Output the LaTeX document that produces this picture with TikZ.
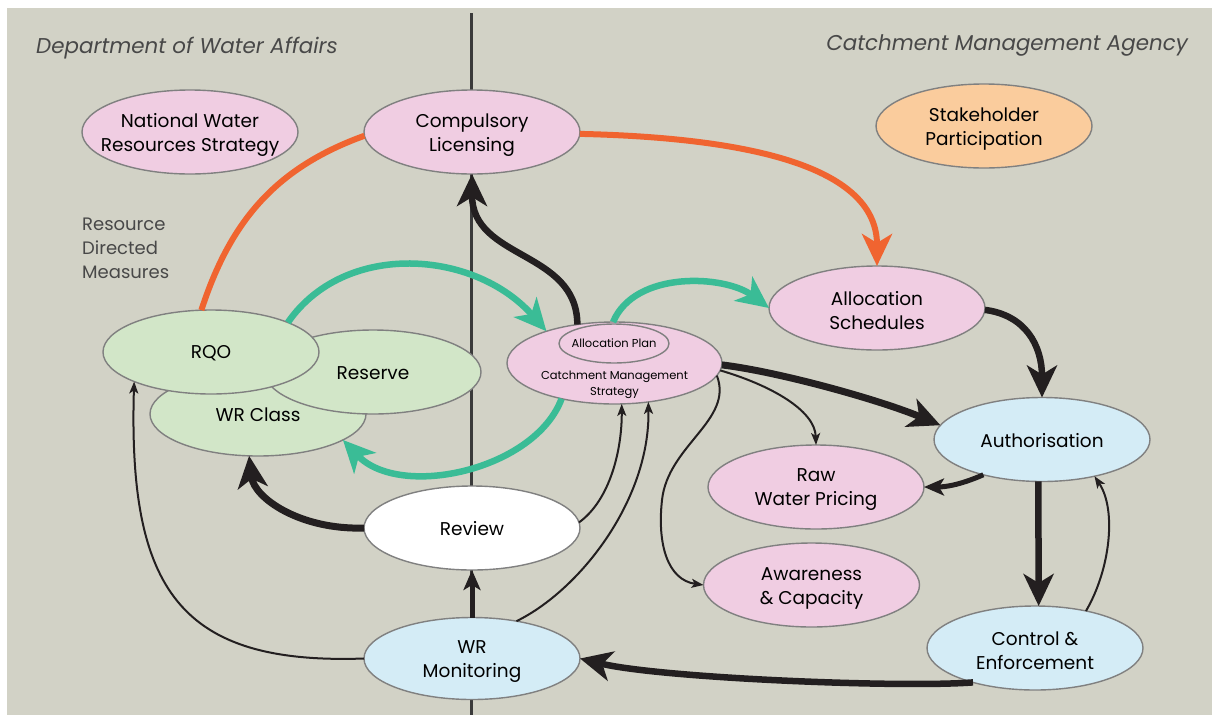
\documentclass[tikz,border=0pt]{standalone}
\usepackage{fontspec}
\setmainfont{Poppins}
\usetikzlibrary{arrows.meta,shapes.geometric}

\definecolor{bgpanel}{RGB}{210,210,198}
\definecolor{edgegray}{RGB}{128,128,128}
\definecolor{pinkfill}{RGB}{240,205,226}
\definecolor{peachfill}{RGB}{250,204,157}
\definecolor{greenfill}{RGB}{210,230,200}
\definecolor{bluefill}{RGB}{212,236,246}
\definecolor{orangeline}{RGB}{240,100,48}
\definecolor{tealline}{RGB}{58,188,150}
\definecolor{inkblack}{RGB}{35,31,32}
\definecolor{titlegray}{RGB}{72,72,72}
\definecolor{divgray}{RGB}{58,58,58}

\tikzset{
  ell/.style={ellipse, draw=edgegray, line width=1.4pt, minimum width=216pt,
              minimum height=84pt, inner sep=0pt, outer sep=0pt},
  pinkell/.style={ell, fill=pinkfill},
  peachell/.style={ell, fill=peachfill},
  greenell/.style={ell, fill=greenfill},
  blueell/.style={ell, fill=bluefill},
  whiteell/.style={ell, fill=white},
  txt/.style={align=center, inner sep=0pt, text=black,
              font=\fontsize{18.5}{24}\selectfont, yshift=-3pt},
  onetxt/.style={txt, yshift=2pt},
  smalltxt/.style={align=center, inner sep=0pt, text=black,
              font=\fontsize{11.5}{16}\selectfont},
  headline/.style={inner sep=0pt, text=titlegray,
              font=\fontsize{21.4}{26}\selectfont\itshape},
  sidenote/.style={inner sep=0pt, align=left, text=titlegray,
              font=\fontsize{18}{24}\selectfont},
  bigtip/.style={-{Stealth[length=32pt,width=30pt,inset=9pt]}},
  midtip/.style={-{Stealth[length=20pt,width=17pt,inset=5pt]}},
  smalltip/.style={-{Stealth[length=12pt,width=9pt,inset=3pt]}},
  orangearc/.style={draw=orangeline, line width=6pt},
  tealarc/.style={draw=tealline, line width=6.5pt},
  heavy/.style={draw=inkblack, line width=6.5pt},
  light/.style={draw=inkblack, line width=2pt},
}

\begin{document}
\begin{tikzpicture}[x=1pt, y=-1pt]
\useasboundingbox (0,0) rectangle (1212,715);
\fill[white] (0,0) rectangle (1212,715);
\fill[bgpanel] (7,8) rectangle (1212,715);

% divider between the two organisations
\coordinate (divtop) at (471,13);
\coordinate (divbot) at (471,715);
\draw[divgray, line width=3pt] (divtop) -- (divbot);

% headings
\node[headline, anchor=base west] (dwa) at (36,53) {Department of Water Affairs};
\node[headline, anchor=base east] (cma) at (1188,50) {Catchment Management Agency};
\node[sidenote, anchor=north west] (rdm) at (82,218) {Resource\\Directed\\Measures};

% ellipses
\node[pinkell] (nwrs) at (190,132) {};
\node[txt] (nwrs-t) at (nwrs) {National Water\\Resources Strategy};
\node[pinkell] (cl) at (472,132) {};
\node[txt] (cl-t) at (cl) {Compulsory\\Licensing};
\node[peachell] (sp) at (984,126) {};
\node[txt] (sp-t) at (sp) {Stakeholder\\Participation};
\node[pinkell] (as) at (877,308) {};
\node[txt] (as-t) at (as) {Allocation\\Schedules};

\node[greenell] (wrc) at (258,414) {};
\node[onetxt] (wrc-t) at (258,414) {WR Class};
\node[greenell] (res) at (373,372) {};
\node[onetxt] (res-t) at (373,372) {Reserve};
\node[greenell] (rqo) at (211,352) {};
\node[onetxt] (rqo-t) at (211,352) {RQO};

\node[pinkell, minimum width=215pt, minimum height=82pt] (cms) at (614.5,363) {};
\node[pinkell, minimum width=110pt, minimum height=39pt] (ap) at (614,343.5) {};
\node[smalltxt] (ap-t) at (ap) {Allocation Plan};
\node[smalltxt] (cms-t) at (614.5,385) {Catchment Management\\Strategy};

\node[blueell] (auth) at (1042,439.5) {};
\node[onetxt] (auth-t) at (1042,439.5) {Authorisation};
\node[pinkell] (rwp) at (816,487) {};
\node[txt] (rwp-t) at (rwp) {Raw\\Water Pricing};
\node[pinkell] (ac) at (811.5,585) {};
\node[txt] (ac-t) at (ac) {Awareness\\\& Capacity};
\node[blueell] (ce) at (1035,648) {};
\node[txt] (ce-t) at (ce) {Control \&\\Enforcement};
\node[whiteell] (review) at (472,528) {};
\node[onetxt] (review-t) at (472,528) {Review};
\node[blueell, minimum height=82pt] (wrm) at (472,658.5) {};
\node[txt] (wrm-t) at (wrm) {WR\\Monitoring};

% orange links
\draw[orangearc] (rqo.103) .. controls (230,222) and (275,168) .. (cl.182);
\draw[orangearc, bigtip] (cl.359) .. controls (760,138) and (877,170) .. (as.north);

% teal links
\draw[tealarc, bigtip] (rqo.21) .. controls (345,240) and (475,250) .. (cms.155);
\draw[tealarc, bigtip] (cms.92) .. controls (635,270) and (725,275) .. (as.west);
\draw[tealarc, bigtip] (cms.214) .. controls (535,470) and (400,500) .. (wrc.343);

% heavy black links
\draw[heavy, bigtip] (cms.134) .. controls (577,250) and (472,260) .. (cl.south);
\draw[heavy, bigtip] (as.-1) .. controls (1025,315) and (1042,345) .. (auth.north);
\draw[heavy, line width=7pt, bigtip] (cms.-1) .. controls (780,372) and (880,400) .. (auth.172);
\draw[heavy, line width=5pt, midtip] (auth.211) .. controls (960,485) and (945,487) .. (rwp.east);
\draw[heavy, bigtip] (auth.265) -- (ce.85);
\draw[heavy, bigtip] (ce.209) .. controls (900,688) and (660,678) .. (wrm.east);
\draw[heavy, line width=5pt, midtip] (wrm.north) -- (review.south);
\draw[heavy, line width=7pt, bigtip] (review.west) .. controls (300,530) and (254,498) .. (wrc.258);

% light black links
\draw[light, smalltip] (cms.-4) .. controls (770,385) and (815,410) .. (rwp.north);
\draw[light, smalltip] (cms.-7) .. controls (734,420) and (668,445) .. (662,500)
      .. controls (657,545) and (668,580) .. (ac.west);
\draw[light, smalltip] (ce.36) .. controls (1110,570) and (1117,510) .. (auth.325);
\draw[light, smalltip] (wrm.west) .. controls (180,665) and (128,590) .. (rqo.201);
\draw[light, smalltip] (review.3) .. controls (610,500) and (622,450) .. (cms.280);
\draw[light, smalltip] (wrm.40) .. controls (580,590) and (650,500) .. (cms.311);
\end{tikzpicture}
\end{document}
